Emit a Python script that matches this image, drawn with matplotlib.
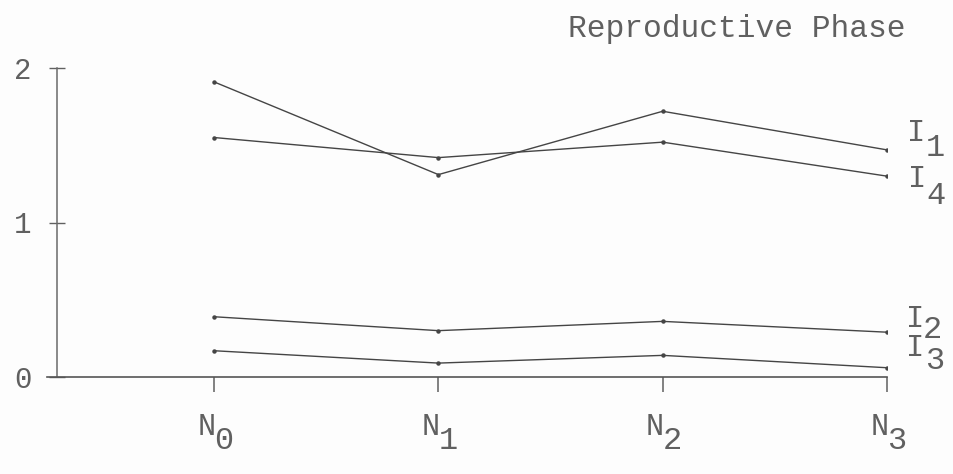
import matplotlib
matplotlib.use("Agg")
import matplotlib.pyplot as plt

# ---- data ----
levels = ["N", "N", "N", "N"]
level_subs = ["0", "1", "2", "3"]
x_pos = [0, 1, 2, 3]
I1 = [1.91, 1.31, 1.72, 1.47]
I4 = [1.55, 1.42, 1.52, 1.30]
I2 = [0.39, 0.30, 0.36, 0.29]
I3 = [0.17, 0.09, 0.14, 0.06]
series_names = ["I", "I", "I", "I"]
series_subs = ["1", "4", "2", "3"]
y_ticks = [0, 1, 2]
y_ticklabels = ["0", "1", "2"]
title = "Reproductive Phase"

FONT = "Liberation Mono"
TXT = "#606060"
LINE = "#454545"
FS = 22

fig = plt.figure(figsize=(9.54, 4.74), dpi=100, facecolor="#fdfdfd")
ax = fig.add_axes([47 / 954, 1 - 377 / 474, (887 - 47) / 954, (377 - 68) / 474])
ax.set_facecolor("none")

for ys in (I1, I4, I2, I3):
    ax.plot(x_pos, ys, color=LINE, lw=1.0, marker="o", ms=2.2, mfc=LINE, mec=LINE)

ax.set_xlim(-0.745, 3.0)
ax.set_ylim(0, 2)

for s in ("top", "right"):
    ax.spines[s].set_visible(False)
ax.spines["left"].set_position(("data", -0.70))
ax.spines["left"].set_color("#6a6a6a")
ax.spines["bottom"].set_color("#555555")
ax.spines["left"].set_linewidth(1.1)
ax.spines["bottom"].set_linewidth(1.2)

ax.set_yticks(y_ticks)
ax.set_yticklabels(y_ticklabels, fontfamily=FONT, fontsize=FS - 1, color=TXT)
ax.tick_params(axis="y", direction="inout", length=11, width=1.0, color="#606060", pad=13)

ax.set_xticks(x_pos)
ax.set_xticklabels([""] * len(x_pos))
ax.tick_params(axis="x", direction="out", length=11, width=1.1, color="#606060", pad=2)

# x category labels with subscripts
for xi, base, sub in zip(x_pos, levels, level_subs):
    ax.annotate(base, xy=(xi, 0), xytext=(-5.5, -36), textcoords="offset points",
                ha="center", va="center", fontfamily=FONT, fontsize=FS, color=TXT,
                annotation_clip=False)
    ax.annotate(sub, xy=(xi, 0), xytext=(7, -46), textcoords="offset points",
                ha="center", va="center", fontfamily=FONT, fontsize=FS + 1, color=TXT,
                annotation_clip=False)

# series labels with subscripts
ends = [I1[-1], I4[-1], I2[-1], I3[-1]]
base_off = [(21, 12), (21.5, -2), (20, 9.5), (20, 14)]
sub_off = [(35, 1.5), (35, -14), (33, 1.5), (34.5, 4.5)]
for yv, base, sub, bo, so in zip(ends, series_names, series_subs, base_off, sub_off):
    ax.annotate(base, xy=(x_pos[-1], yv), xytext=bo, textcoords="offset points",
                ha="center", va="center", fontfamily=FONT, fontsize=FS, color=TXT,
                annotation_clip=False)
    ax.annotate(sub, xy=(x_pos[-1], yv), xytext=so, textcoords="offset points",
                ha="center", va="center", fontfamily=FONT, fontsize=FS + 1, color=TXT,
                annotation_clip=False)

fig.text(568 / 954, 1 - 37 / 474, title, ha="left", va="baseline",
         fontfamily=FONT, fontsize=FS + 0.5, color=TXT)

fig.savefig("out.png", dpi=100, facecolor=fig.get_facecolor())
